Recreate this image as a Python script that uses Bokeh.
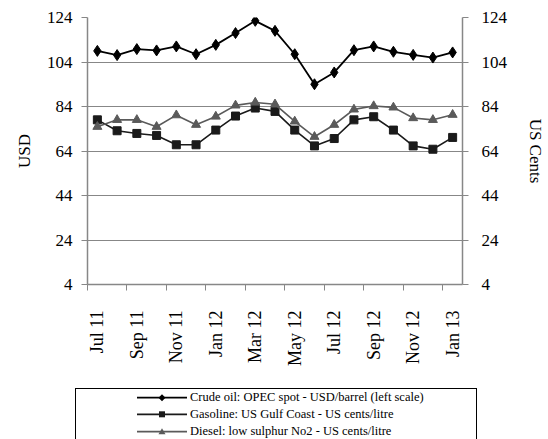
import math
from bokeh.plotting import figure
from bokeh.layouts import column
from bokeh.models import Range1d, LinearAxis, FixedTicker, Div
from bokeh.embed import file_html
from bokeh.resources import INLINE

months = ["Jul 11", "Aug 11", "Sep 11", "Oct 11", "Nov 11", "Dec 11", "Jan 12",
          "Feb 12", "Mar 12", "Apr 12", "May 12", "Jun 12", "Jul 12", "Aug 12",
          "Sep 12", "Oct 12", "Nov 12", "Dec 12", "Jan 13"]
crude = [109.0, 107.1, 109.8, 109.2, 111.0, 107.5, 111.7, 117.0, 122.5, 118.0,
         107.5, 94.0, 99.3, 109.3, 111.0, 108.6, 107.2, 106.0, 108.3]
gasoline = [78.0, 73.1, 71.9, 71.0, 66.8, 66.8, 73.4, 79.7, 83.3, 81.8,
            73.4, 66.3, 69.6, 78.0, 79.4, 73.4, 66.3, 64.8, 70.1]
diesel = [74.9, 78.0, 78.0, 74.9, 80.1, 75.8, 79.5, 84.5, 85.8, 85.0,
          77.3, 70.4, 75.8, 82.7, 84.2, 83.6, 78.8, 78.0, 80.3]
y_ticks = [4, 24, 44, 64, 84, 104, 124]
legend_labels = ["Crude oil: OPEC spot - USD/barrel (left scale)",
                 "Gasoline: US Gulf Coast - US cents/litre",
                 "Diesel: low sulphur No2 - US cents/litre"]

FONT = "Liberation Serif"
GRAY = "#878787"
C_CRUDE = "#000000"
C_GAS = "#1a1a1a"
C_DIESEL = "#5a5a5a"

x = [i + 0.5 for i in range(len(months))]

W, H1, H2 = 548, 380, 59
p = figure(width=W, height=H1, output_backend="svg", toolbar_location=None,
           x_range=Range1d(0, len(months)), y_range=Range1d(4, 124),
           min_border_left=87, min_border_right=86, min_border_top=17,
           min_border_bottom=H1 - 284)
p.extra_y_ranges = {"cents": Range1d(4, 124)}
p.outline_line_color = None

# x axis: labels centred on every second month, tick marks on category edges
xa = p.xaxis[0]
label_ticks = x[::2]
xa.ticker = FixedTicker(ticks=label_ticks, minor_ticks=list(range(0, len(months), 2)))
xa.major_label_overrides = {t: months[i * 2] for i, t in enumerate(label_ticks)}
xa.major_label_orientation = math.pi / 2
xa.major_tick_line_color = None
xa.major_tick_out = 0
xa.major_tick_in = 0
xa.minor_tick_line_color = GRAY
xa.minor_tick_out = 6
xa.minor_tick_in = 0
xa.axis_line_color = GRAY
xa.axis_line_width = 1.5
xa.major_label_standoff = 20
xa.major_label_text_font = FONT
xa.major_label_text_font_size = "18px"
xa.major_label_text_color = "black"

# y axes
ya = p.yaxis[0]
ya.ticker = FixedTicker(ticks=y_ticks)
ya.axis_label = "USD"
yr = LinearAxis(y_range_name="cents", ticker=FixedTicker(ticks=y_ticks),
                axis_label="US Cents")
p.add_layout(yr, "right")

for ax in [ya, yr]:
    ax.axis_line_color = GRAY
    ax.axis_line_width = 1.5
    ax.major_tick_line_color = GRAY
    ax.major_tick_out = 6
    ax.major_tick_in = 0
    ax.minor_tick_line_color = None
    ax.major_label_text_font = FONT
    ax.major_label_text_font_size = "17px"
    ax.major_label_text_color = "black"
    ax.axis_label_text_font = FONT
    ax.axis_label_text_font_size = "17px"
    ax.axis_label_text_font_style = "normal"
    ax.axis_label_text_color = "#000000"
ya.major_label_standoff = 9
yr.major_label_standoff = 13
ya.axis_label_standoff = 10
yr.axis_label_standoff = 16

p.xgrid.visible = False
p.ygrid.ticker = FixedTicker(ticks=y_ticks)
p.ygrid.grid_line_color = GRAY
p.ygrid.grid_line_width = 1.2

# series
p.line(x, crude, line_color=C_CRUDE, line_width=1.8)
p.scatter(x, crude, marker="diamond", size=11, fill_color=C_CRUDE, line_color=C_CRUDE)
p.line(x, gasoline, line_color=C_GAS, line_width=1.6, y_range_name="cents")
p.scatter(x, gasoline, marker="square", size=8, fill_color=C_GAS,
          line_color=C_GAS, y_range_name="cents")
p.line(x, diesel, line_color=C_DIESEL, line_width=1.6, y_range_name="cents")
p.scatter(x, diesel, marker="triangle", size=9, fill_color=C_DIESEL,
          line_color=C_DIESEL, y_range_name="cents")

# legend box below the chart (the reference cuts it off at the bottom)
row_y = [17.7, 34.3, 51.7]
gx0, gx1, gxm = 137, 187, 162
svg_parts = []
for (col, mk), cy in zip([(C_CRUDE, "diamond"), (C_GAS, "square"),
                          (C_DIESEL, "triangle")], row_y):
    svg_parts.append(f'<line x1="{gx0}" y1="{cy}" x2="{gx1}" y2="{cy}" '
                     f'stroke="{col}" stroke-width="1.8"/>')
    if mk == "diamond":
        pts = f"{gxm},{cy-3.5} {gxm+3.5},{cy} {gxm},{cy+3.5} {gxm-3.5},{cy}"
        svg_parts.append(f'<polygon points="{pts}" fill="{col}"/>')
    elif mk == "square":
        svg_parts.append(f'<rect x="{gxm-3}" y="{cy-3}" width="6" height="6" fill="{col}"/>')
    else:
        pts = f"{gxm},{cy-3.5} {gxm+3.5},{cy+2.5} {gxm-3.5},{cy+2.5}"
        svg_parts.append(f'<polygon points="{pts}" fill="{col}"/>')
svg = (f'<svg width="{W}" height="{H2}" style="position:absolute;left:0;top:0">'
       + "".join(svg_parts) + "</svg>")
FF = "font-family:&quot;Liberation Serif&quot;,&quot;Times New Roman&quot;,serif;"
texts = "".join(
    f'<div style="position:absolute;left:190px;top:{cy-8.5}px;height:17px;'
    f'line-height:17px;font-size:12.5px;{FF}white-space:nowrap;color:#000">{lab}</div>'
    for lab, cy in zip(legend_labels, row_y))
html = (f'<div style="position:relative;width:{W}px;height:{H2}px;overflow:hidden;'
        f'{FF}margin:0;padding:0">'
        '<div style="position:absolute;left:75px;top:8px;width:402px;height:90px;'
        'border:1.5px solid #000;box-sizing:border-box"></div>'
        + svg + texts + "</div>")
legend_div = Div(text=html, width=W, height=H2, margin=0)

layout = column(p, legend_div, spacing=0)
open("out.html", "w").write(file_html(layout, INLINE))
